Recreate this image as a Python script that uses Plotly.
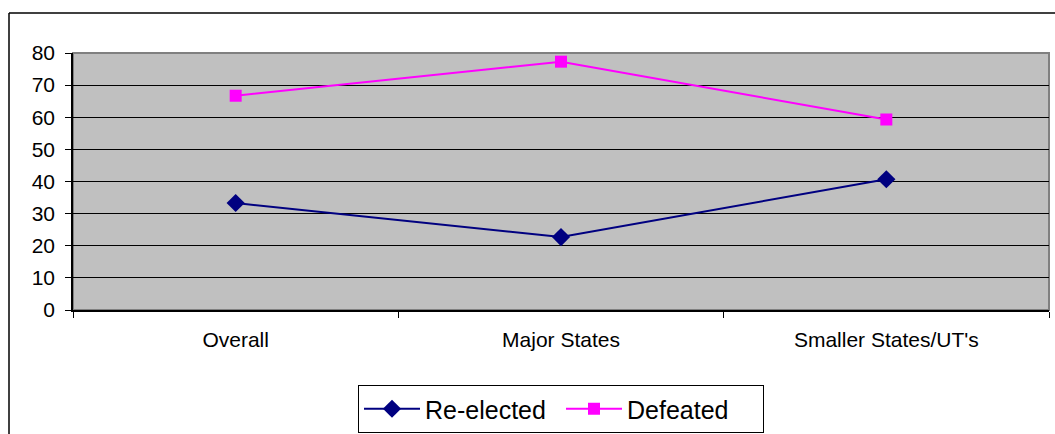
import plotly.graph_objects as go

categories = ["Overall", "Major States", "Smaller States/UT's"]
re_elected = [33.3, 22.7, 40.7]
defeated = [66.7, 77.3, 59.3]
y_ticks = [0, 10, 20, 30, 40, 50, 60, 70, 80]

W, H = 1055, 434
L, R, T, B = 73, 6, 53, 124
pw, ph = W - L - R, H - T - B

def px(x):
    return (x - L) / pw

def py(y):
    return (H - B - y) / ph

FONT = "Liberation Sans, Arial, sans-serif"

fig = go.Figure()
fig.add_trace(go.Scatter(
    x=categories, y=re_elected, name="Re-elected", mode="lines+markers",
    line=dict(color="#000080", width=2),
    marker=dict(symbol="diamond", size=14, color="#000080"),
))
fig.add_trace(go.Scatter(
    x=categories, y=defeated, name="Defeated", mode="lines+markers",
    line=dict(color="#FF00FF", width=2),
    marker=dict(symbol="square", size=12, color="#FF00FF"),
))

# outer chart frame (top and left edges visible)
fig.add_shape(type="line", xref="paper", yref="paper",
              x0=px(9), x1=px(1060), y0=py(13), y1=py(13),
              line=dict(color="black", width=1.5))
fig.add_shape(type="line", xref="paper", yref="paper",
              x0=px(9), x1=px(9), y0=py(13), y1=py(440),
              line=dict(color="black", width=1.5))
# plot area border
fig.add_shape(type="rect", xref="paper", yref="paper",
              x0=0, x1=1, y0=0, y1=1, layer="below",
              line=dict(color="#808080", width=2))

fig.update_layout(
    width=W, height=H,
    margin=dict(l=L, r=R, t=T, b=B, autoexpand=False),
    paper_bgcolor="white",
    plot_bgcolor="#C0C0C0",
    font=dict(family=FONT, size=21, color="black"),
    showlegend=True,
    legend=dict(
        orientation="h", x=px(561), xanchor="center", y=py(385), yanchor="top",
        bordercolor="black", borderwidth=1, bgcolor="white",
        font=dict(family=FONT, size=25, color="black"),
        itemwidth=56, entrywidth=131,
    ),
)
fig.update_xaxes(
    type="category", range=[-0.5, 2.5], tickson="boundaries",
    ticks="outside", ticklen=6, tickcolor="black",
    showline=True, linecolor="black", linewidth=1.5,
    showgrid=False, zeroline=False, ticklabelstandoff=10,
    tickfont=dict(family=FONT, size=21, color="black"),
)
fig.update_yaxes(
    range=[0, 80], tickvals=y_ticks,
    ticks="outside", ticklen=6, tickcolor="black",
    showline=True, linecolor="black", linewidth=1.5,
    showgrid=True, gridcolor="black", gridwidth=1,
    zeroline=False, ticklabelstandoff=6,
    tickfont=dict(family=FONT, size=21, color="black"),
)

fig.write_html("out.html")
